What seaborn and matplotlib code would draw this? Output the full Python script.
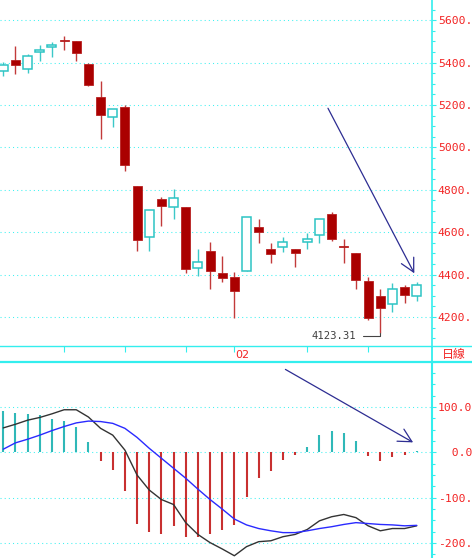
import numpy as np
import pandas as pd
import seaborn as sns
import matplotlib
matplotlib.use("Agg")
import matplotlib.pyplot as plt
from matplotlib.ticker import MultipleLocator

# daily candles
opens = [5362, 5413, 5370, 5452, 5472, 5509, 5504, 5394, 5236, 5143, 5190, 4816, 4576, 4756, 4720, 4720, 4431, 4509,
         4406, 4387, 4419, 4625, 4522, 4532, 4522, 4552, 4585, 4685, 4535, 4504, 4372, 4299, 4261, 4342, 4301]
closes = [5391, 5391, 5433, 5458, 5482, 5502, 5447, 5293, 5153, 5181, 4915, 4562, 4704, 4723, 4761, 4425, 4458, 4419,
          4384, 4324, 4670, 4601, 4496, 4552, 4500, 4567, 4664, 4568, 4530, 4375, 4194, 4244, 4334, 4305, 4349]
highs = [5402, 5480, 5443, 5485, 5498, 5526, 5504, 5398, 5313, 5181, 5200, 4816, 4704, 4765, 4806, 4720, 4520, 4554,
         4488, 4412, 4673, 4664, 4548, 4576, 4522, 4598, 4664, 4696, 4567, 4504, 4390, 4331, 4362, 4349, 4367]
lows = [5335, 5345, 5351, 5409, 5427, 5461, 5406, 5288, 5042, 5096, 4891, 4513, 4513, 4627, 4661, 4409, 4394, 4334,
        4367, 4197, 4419, 4551, 4453, 4508, 4434, 4519, 4548, 4560, 4453, 4334, 4186, 4123.31, 4225, 4268, 4277]

# MACD panel
macd_hist = [91, 87, 85, 82, 74, 70, 55, 23, -18, -38, -86, -159, -176, -179, -162, -187, -187, -181, -171, -160,
             -98, -57, -41, -17, -5, 11, 39, 47, 43, 25, -8, -20, -11, -6, 3]
dif = [54, 62, 71, 77, 85, 94, 94, 78, 53, 38, 5, -50, -83, -104, -115, -155, -181, -199, -213, -228, -208, -197,
       -195, -186, -181, -170, -151, -142, -137, -144, -162, -173, -168, -168, -162]
dea = [7, 21, 29, 38, 48, 57, 65, 69, 68, 64, 53, 33, 9, -13, -35, -57, -81, -104, -125, -147, -160, -168, -173,
       -177, -177, -173, -168, -164, -159, -155, -157, -159, -160, -162, -161]

price_ticks = [4200, 4400, 4600, 4800, 5000, 5200, 5400, 5600]
price_labels = ["4200.00", "4400.00", "4600.00", "4800.00", "5000.00", "5200.00", "5400.00", "5600.00"]
macd_ticks = [100, 0, -100, -200]
macd_labels = ["100.00", "  0.00", "-100.00", "-200.00"]
date_ticks = [5, 10, 15, 19, 25, 30]
month_label = "02"
month_pos = 19
period_label = "日線"

# hand drawn trend arrows (start, tip)
price_arrow = [(26.7, 5185), (33.8, 4406)]
macd_arrow = [(23.2, 183), (33.7, 22)]

RED = "#aa0000"
CYAN = "#2cc4c4"
GRID = "#3ff2f2"
AXIS = "#33eeee"
TXT = "#f22424"
ARROW = "#2d2d92"

sns.set_style("white")
plt.rcParams["font.family"] = ["DejaVu Sans", "Noto Sans CJK TC"]

df = pd.DataFrame({"day": np.arange(len(opens)), "open": opens, "close": closes, "high": highs, "low": lows,
                   "hist": macd_hist, "dif": dif, "dea": dea})
up = df["close"] >= df["open"]

W, H = 472, 558
px = 12.16  # pixels per trading day
x0 = -3.3 / px
x_axis = x0 + 432 / px

fig = plt.figure(figsize=(W / 100, H / 100), dpi=100)
ax_p = fig.add_axes([0, 1 - 346.5 / H, 432 / W, 346.5 / H])
ax_d = fig.add_axes([0, 1 - 361.7 / H, 1, 15.2 / H])
ax_m = fig.add_axes([0, 0, 432 / W, (H - 361.7) / H])

# ---- price panel
ax_p.vlines(df["day"], df["low"], df["high"], colors=np.where(up, "#3cc8c8", "#c23a3a"), lw=1.0, zorder=2)
body_lo = df[["open", "close"]].min(axis=1)
body_h = (df["close"] - df["open"]).abs().clip(lower=1.5)
ax_p.bar(df["day"][up], body_h[up], bottom=body_lo[up], width=0.74, color="white",
         edgecolor=CYAN, linewidth=1.1, zorder=3)
ax_p.bar(df["day"][~up], body_h[~up], bottom=body_lo[~up], width=0.74, color=RED,
         edgecolor="#b82020", linewidth=0.6, zorder=3)

ax_p.set_xlim(x0, x_axis)
ax_p.set_ylim(4060.6, 5695.8)
ax_p.yaxis.tick_right()
ax_p.set_yticks(price_ticks, labels=price_labels, fontfamily="DejaVu Sans Mono")
ax_p.yaxis.set_minor_locator(MultipleLocator(50))
ax_p.set_xticks([])
ax_p.grid(axis="y", color=GRID, linestyle=(0, (1, 3)), lw=0.75)
ax_p.set_axisbelow(True)

low_i = int(np.argmin(lows))
ax_p.annotate(f"{lows[low_i]:.2f}", xy=(low_i, lows[low_i]), xytext=(low_i - 1.95, 4111),
              ha="right", va="center", fontsize=7.6, fontfamily="DejaVu Sans Mono", color="#404040",
              arrowprops=dict(arrowstyle="-", color="#444444", lw=0.8, shrinkA=2, shrinkB=0,
                              connectionstyle="angle,angleA=0,angleB=90,rad=0"))
ax_p.annotate("", xy=price_arrow[1], xytext=price_arrow[0],
              arrowprops=dict(arrowstyle="->,head_length=0.95,head_width=0.5", color=ARROW, lw=0.9,
                              shrinkA=0, shrinkB=0))

# ---- date strip
ax_d.set_xlim(x0, x0 + W / px)
ax_d.set_ylim(0, 1)
ax_d.set_yticks([])
ax_d.set_xticks(date_ticks)
ax_d.xaxis.tick_top()
ax_d.tick_params(axis="x", direction="in", length=4, width=0.8, color=AXIS, labeltop=False, labelbottom=False)
ax_d.axvline(x_axis, color=AXIS, lw=1.3)
ax_d.text(month_pos + 0.06, 0.42, month_label, color=TXT, fontsize=8, ha="left", va="center")
ax_d.text(x0 + 442 / px, 0.45, period_label, color=TXT, fontsize=8.6, ha="left", va="center",
          fontfamily=["Noto Sans CJK TC", "DejaVu Sans"])

# ---- MACD panel
ax_m.vlines(df["day"], 0, df["hist"], colors=np.where(df["hist"] >= 0, "#2fb8b8", "#c83030"), lw=1.5, zorder=2)
sns.lineplot(data=df, x="day", y="dif", ax=ax_m, color="#333333", lw=1.0, zorder=3)
sns.lineplot(data=df, x="day", y="dea", ax=ax_m, color="#2a2aff", lw=1.0, zorder=3)
ax_m.set_xlim(x0, x_axis)
ax_m.set_ylim(-233, 200)
ax_m.yaxis.tick_right()
ax_m.set_yticks(macd_ticks, labels=macd_labels, fontfamily="DejaVu Sans Mono")
ax_m.yaxis.set_minor_locator(MultipleLocator(25))
ax_m.set_xticks([])
ax_m.set_xlabel("")
ax_m.set_ylabel("")
ax_m.grid(axis="y", color=GRID, linestyle=(0, (1, 3)), lw=0.75)
ax_m.set_axisbelow(True)
ax_m.annotate("", xy=macd_arrow[1], xytext=macd_arrow[0],
              arrowprops=dict(arrowstyle="->,head_length=0.95,head_width=0.5", color=ARROW, lw=0.9,
                              shrinkA=0, shrinkB=0))

# axes frames and tick styling
for ax in (ax_p, ax_d, ax_m):
    for s in ax.spines.values():
        s.set_visible(False)
    ax.set_facecolor("none")
for ax in (ax_p, ax_m):
    ax.spines["right"].set_visible(True)
    ax.spines["right"].set_color(AXIS)
    ax.tick_params(axis="y", which="major", length=3, width=0.8, color=AXIS, pad=1.2,
                   labelcolor=TXT, labelsize=8.2)
    ax.tick_params(axis="y", which="minor", length=2, width=0.8, color=AXIS, right=True)
ax_p.spines["right"].set_linewidth(1.2)
ax_m.spines["right"].set_linewidth(1.5)
ax_d.spines["top"].set_visible(True)
ax_d.spines["top"].set_color(AXIS)
ax_d.spines["top"].set_linewidth(1.0)
ax_d.spines["bottom"].set_visible(True)
ax_d.spines["bottom"].set_color(AXIS)
ax_d.spines["bottom"].set_linewidth(1.6)

fig.savefig("out.png", dpi=100, facecolor="white")
